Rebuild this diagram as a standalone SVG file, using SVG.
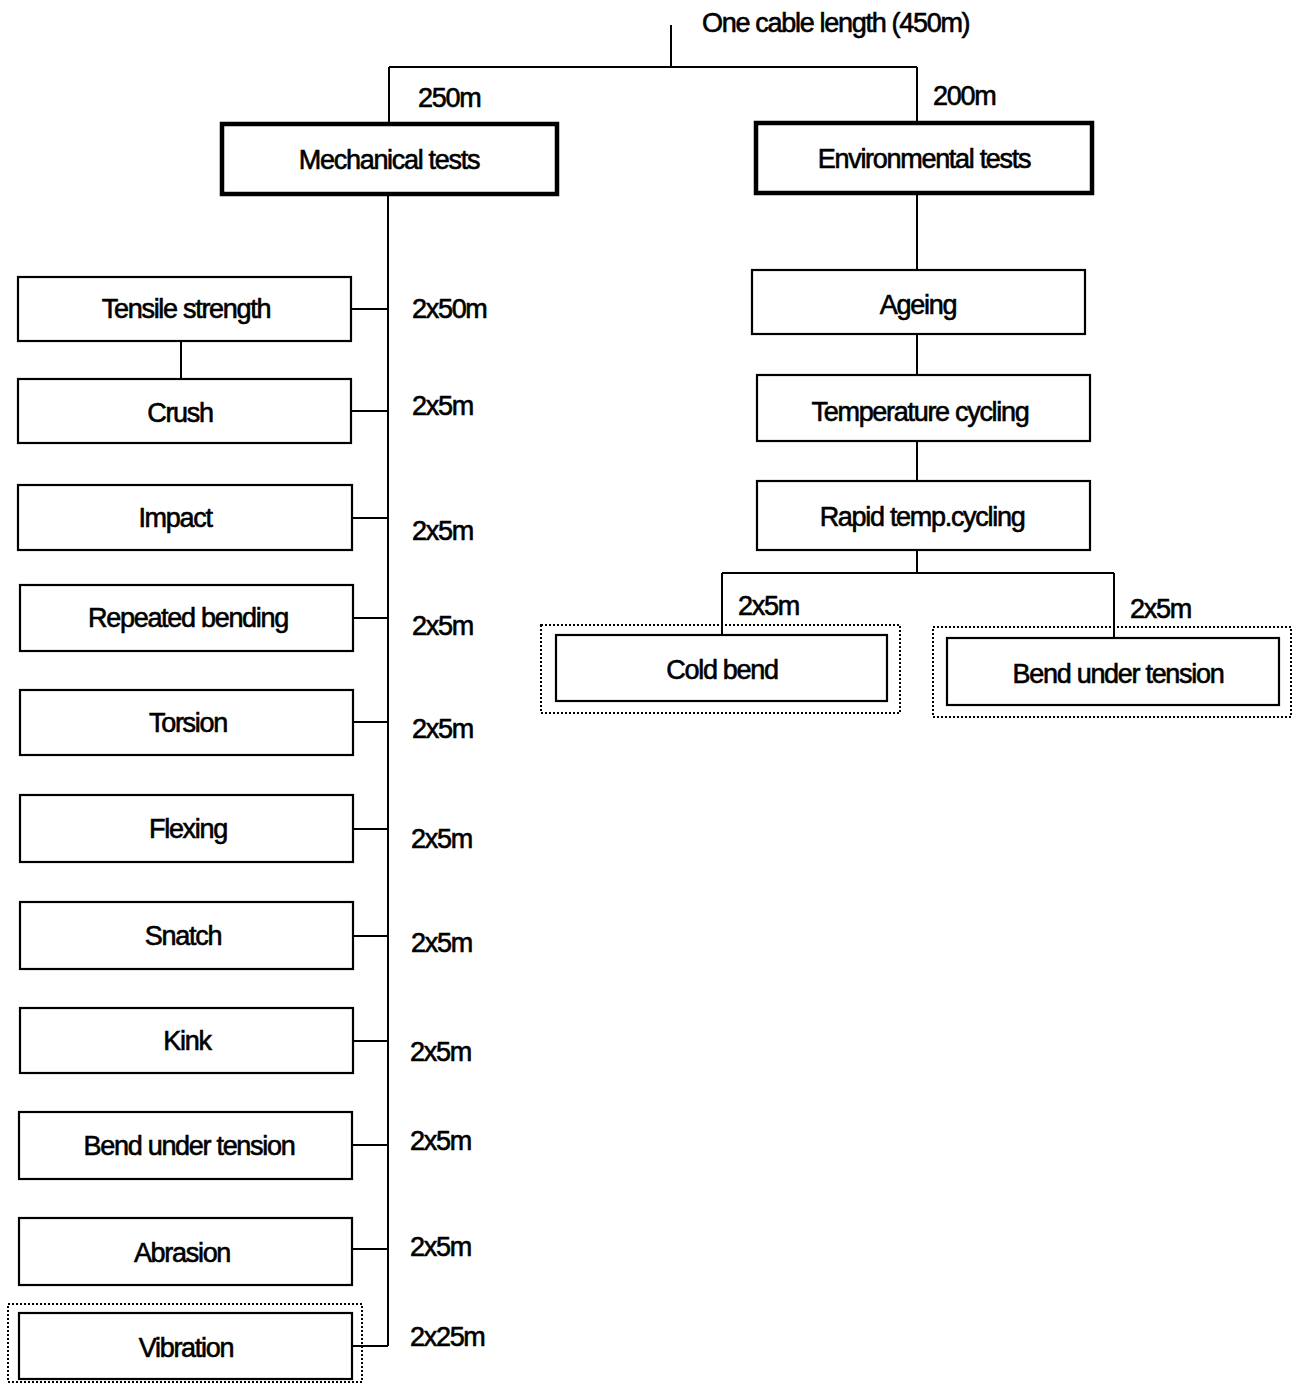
<svg xmlns="http://www.w3.org/2000/svg" width="1293" height="1385" viewBox="0 0 1293 1385">
<style>
text{font-family:"Liberation Sans",Arial,sans-serif;font-size:27px;fill:#000;stroke:#000;stroke-width:0.6;letter-spacing:-1.3px}
.box{fill:#fff;stroke:#000;stroke-width:2.2}
.thick{fill:#fff;stroke:#000;stroke-width:4.5}
.dot{fill:none;stroke:#000;stroke-width:2;stroke-dasharray:2 2}
.c text{text-anchor:middle}
.ln{fill:none;stroke:#000;stroke-width:2}
</style>
<rect width="1293" height="1385" fill="#fff"/>
<g id="connectors" class="ln">
<path d="M671 25V67M389 67H917M389 67V124M917 67V123"/>
<path d="M388 194V1346"/>
<path d="M351 309H388M351 411H388M352 518H388M353 618H388M353 722H388M353 829H388M353 936H388M353 1041H388M352 1145H388M352 1249H388M352 1346H388"/>
<path d="M181 341V379"/>
<path d="M917 193V270M917 334V375M917 441V481M917 550V573M722 573H1114M722 573V637M1114 573V638"/>
</g>
<g id="labels">
<text x="702" y="32">One cable length (450m)</text>
<text x="418" y="107">250m</text>
<text x="933" y="105">200m</text>
<text x="412" y="318">2x50m</text>
<text x="412" y="415">2x5m</text>
<text x="412" y="540">2x5m</text>
<text x="412" y="635">2x5m</text>
<text x="412" y="738">2x5m</text>
<text x="411" y="848">2x5m</text>
<text x="411" y="952">2x5m</text>
<text x="410" y="1061">2x5m</text>
<text x="410" y="1150">2x5m</text>
<text x="410" y="1256">2x5m</text>
<text x="410" y="1346">2x25m</text>
<text x="738" y="615">2x5m</text>
<text x="1130" y="618">2x5m</text>
</g>
<g class="c">
<g id="mechanical"><rect class="thick" x="222" y="124" width="335" height="70"/><text x="389" y="169">Mechanical tests</text></g>
<g id="environmental"><rect class="thick" x="756" y="123" width="336" height="70"/><text x="924" y="168">Environmental tests</text></g>
<g id="tensile"><rect class="box" x="18" y="277" width="333" height="64"/><text x="186" y="318">Tensile strength</text></g>
<g id="crush"><rect class="box" x="18" y="379" width="333" height="64"/><text x="180" y="422">Crush</text></g>
<g id="impact"><rect class="box" x="18" y="485" width="334" height="65"/><text x="175" y="527">Impact</text></g>
<g id="repeated"><rect class="box" x="20" y="585" width="333" height="66"/><text x="188" y="627">Repeated bending</text></g>
<g id="torsion"><rect class="box" x="20" y="690" width="333" height="65"/><text x="188" y="732">Torsion</text></g>
<g id="flexing"><rect class="box" x="20" y="795" width="333" height="67"/><text x="188" y="838">Flexing</text></g>
<g id="snatch"><rect class="box" x="20" y="902" width="333" height="67"/><text x="183" y="945">Snatch</text></g>
<g id="kink"><rect class="box" x="20" y="1008" width="333" height="65"/><text x="187" y="1050">Kink</text></g>
<g id="bend-left"><rect class="box" x="19" y="1112" width="333" height="67"/><text x="189" y="1155">Bend under tension</text></g>
<g id="abrasion"><rect class="box" x="19" y="1218" width="333" height="67"/><text x="182" y="1262">Abrasion</text></g>
<g id="vibration"><rect class="dot" x="8" y="1304" width="354" height="78"/><rect class="box" x="19" y="1313" width="333" height="66"/><text x="186" y="1357">Vibration</text></g>
<g id="ageing"><rect class="box" x="752" y="270" width="333" height="64"/><text x="918" y="314">Ageing</text></g>
<g id="tempcycling"><rect class="box" x="757" y="375" width="333" height="66"/><text x="920" y="421">Temperature cycling</text></g>
<g id="rapid"><rect class="box" x="757" y="481" width="333" height="69"/><text x="922" y="526">Rapid temp.cycling</text></g>
<g id="coldbend"><rect class="dot" x="541" y="625" width="359" height="88"/><rect class="box" x="556" y="635" width="331" height="66"/><text x="722" y="679">Cold bend</text></g>
<g id="bend-right"><rect class="dot" x="933" y="627" width="358" height="90"/><rect class="box" x="947" y="638" width="332" height="67"/><text x="1118" y="683">Bend under tension</text></g>
</g>
</svg>
